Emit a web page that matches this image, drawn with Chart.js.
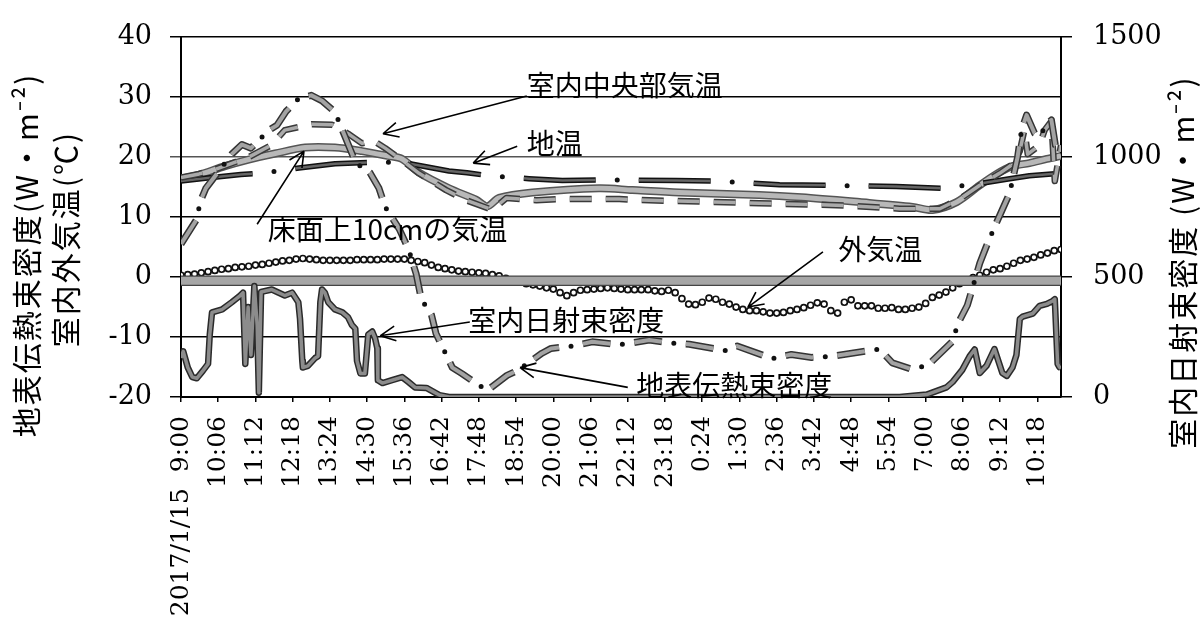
<!DOCTYPE html>
<html lang="ja">
<head>
<meta charset="utf-8">
<title>地表伝熱束密度・室内外気温・室内日射束密度</title>
<script src="https://cdn.jsdelivr.net/npm/chart.js@4.4.1/dist/chart.umd.min.js"></script>
<style>
  html, body { margin: 0; padding: 0; background: #fff; }
  #wrap { width: 1201px; height: 628px; }
</style>
</head>
<body>
<div id="wrap"><canvas id="chart" width="1201" height="628"></canvas></div>
<script>
//? DATA (x = minutes after 2017/1/15 9:00)
const tickLabels = ['2017/1/15  9:00', '10:06', '11:12', '12:18', '13:24', '14:30', '15:36', '16:42',
    '17:48', '18:54', '20:00', '21:06', '22:12', '23:18', '0:24', '1:30', '2:36', '3:42', '4:48',
    '5:54', '7:00', '8:06', '9:12', '10:18'];
const tickStep = 66;
const endTime = 1560;

// 外気温 (℃), every 12 min
const outdoorStep = 12;
const outdoorTemp = [
    0.3, 0.4, 0.5, 0.7, 0.9, 1.1, 1.3, 1.4, 1.6, 1.7, 1.8,
    2.0, 2.1, 2.3, 2.5, 2.7, 2.8, 3.0, 3.1, 3.0, 2.9, 2.8,
    2.8, 2.8, 2.8, 2.8, 2.9, 2.9, 2.9, 2.9, 3.0, 3.0, 3.0,
    3.0, 2.8, 2.6, 2.4, 2.0, 1.6, 1.4, 1.2, 1.0, 0.9, 0.8,
    0.7, 0.6, 0.4, 0.2, -0.2, -0.5, -0.8, -1.1, -1.3, -1.5, -1.8,
    -2.0, -2.6, -3.1, -2.6, -2.2, -2.1, -2.0, -1.9, -1.8, -1.9, -2.0,
    -2.1, -2.1, -2.1, -2.1, -2.3, -2.4, -2.2, -2.6, -3.6, -4.5, -4.6,
    -4.2, -3.5, -3.7, -4.2, -4.5, -5.0, -5.4, -5.6, -5.6, -5.8, -6.0,
    -6.0, -5.9, -5.6, -5.4, -5.1, -4.7, -4.3, -4.5, -5.6, -6.0, -4.2,
    -3.8, -4.8, -4.8, -4.8, -5.2, -5.2, -5.1, -5.4, -5.4, -5.2, -5.0,
    -4.4, -3.4, -3.0, -2.5, -1.8, -1.1, -0.5, -0.1, 0.3, 0.8, 1.2,
    1.4, 1.8, 2.3, 2.8, 3.0, 3.3, 3.7, 4.0, 4.4, 4.6
];

// 床面上10cmの気温 (℃)
const floorTime = [0, 30, 78, 120, 167, 220, 273, 321, 367, 392, 422, 475, 523, 543, 564, 623, 741, 800,
    883, 1025, 1100, 1203, 1297, 1332, 1375, 1416, 1446, 1474, 1504, 1535, 1560];
const floorTemp = [16.4, 17.0, 18.5, 19.6, 20.6, 21.6, 21.6, 21.0, 20.2, 19.7, 17.4, 14.8, 12.9, 11.8, 13.2,
    14.1, 14.8, 14.5, 14.1, 13.7, 13.3, 12.5, 11.7, 11.2, 12.5, 15.3, 17.2, 18.5, 19.0, 19.7, 20.2];

// 室内中央部気温 (℃)
const centerTime = [0, 32, 62, 120, 160, 184, 232, 268, 298, 321, 340, 362, 387, 422, 470, 506, 552, 577,
    630, 671, 777, 830, 919, 1025, 1114, 1185, 1274, 1345, 1380, 1416, 1451, 1474, 1487, 1495, 1501,
    1522, 1531, 1543, 1549, 1560];
const centerTemp = [16.6, 17.2, 18.0, 20.0, 22.0, 24.5, 25.5, 25.4, 23.8, 22.3, 22.8, 21.5, 19.8, 17.3,
    14.5, 12.8, 11.2, 13.2, 12.8, 13.0, 13.0, 12.8, 12.6, 12.3, 12.1, 11.9, 11.4, 11.4, 13.0, 15.3, 17.3,
    18.8, 21.0, 24.5, 20.5, 22.0, 24.5, 26.0, 16.0, 22.0];

// 地温 (℃)
const soilTime = [0, 55, 106, 144, 209, 273, 351, 399, 475, 507, 546, 617, 676, 750, 878, 951, 1061, 1146,
    1268, 1348, 1416, 1469, 1504, 1560];
const soilTemp = [16.0, 16.6, 17.1, 17.3, 18.2, 18.9, 19.2, 19.0, 17.7, 17.4, 16.9, 16.4, 16.1, 16.2, 16.1,
    16.0, 15.4, 15.3, 15.1, 14.8, 15.6, 16.4, 16.9, 17.3];

// 地表伝熱束密度 (W/m2, left axis)
const fluxTime = [0, 27, 35, 44, 90, 108, 124, 156, 170, 186, 209, 231, 250, 273, 310, 335, 351, 362, 387,
    404, 417, 426, 444, 452, 481, 498, 523, 543, 578, 596, 640, 656, 694, 729, 777, 830, 869, 901, 967,
    986, 1048, 1082, 1118, 1155, 1238, 1261, 1293, 1323, 1368, 1377, 1394, 1416, 1428, 1442, 1469,
    1483, 1490, 1499, 1513, 1522, 1535, 1543, 1550, 1560];
const fluxValue = [5.5, 9.5, 12.8, 14.8, 20.5, 22.1, 21.5, 24.5, 25.3, 27.6, 29.8, 30.3, 29.4, 27.5, 19.0,
    17.4, 14.8, 11.7, 8.0, 4.5, 0.5, -3.7, -6.3, -9.4, -15.1, -16.1, -17.7, -18.9, -16.4, -15.6, -12.7,
    -11.9, -11.5, -10.8, -11.3, -10.5, -11.0, -11.2, -12.3, -11.5, -13.6, -12.9, -13.4, -13.2, -12.0,
    -14.3, -15.3, -14.8, -10.7, -7.8, -4.7, 2.3, 5.2, 8.3, 14.0, 20.0, 24.5, 27.0, 24.0, 23.5, 25.5,
    26.2, 22.0, 21.0];

// 室内日射束密度 (W/m2, right axis)
const solarTime = [0, 4, 12, 20, 28, 39, 48, 51, 55, 73, 90, 105, 110, 114, 119, 124, 130, 135, 138, 142,
    161, 184, 197, 208, 211, 215, 216, 225, 238, 243, 247, 250, 255, 261, 273, 286, 296, 303, 309, 312,
    318, 326, 332, 339, 344, 348, 349, 357, 374, 392, 403, 415, 435, 458, 475,
    1274, 1322, 1357, 1368, 1385, 1398, 1407, 1416, 1428, 1442, 1456, 1464, 1474, 1481, 1487, 1492,
    1510, 1522, 1535, 1545, 1549, 1552, 1554, 1557, 1560];
const solarValue = [163, 190, 123, 83, 78, 110, 138, 260, 353, 365, 395, 423, 435, 138, 375, 175, 463, 300,
    18, 438, 448, 423, 435, 395, 325, 150, 123, 130, 163, 170, 395, 448, 435, 395, 365, 353, 333, 300,
    285, 150, 98, 98, 260, 273, 245, 203, 70, 58, 70, 83, 63, 40, 38, 8, 0,
    0, 10, 40, 63, 113, 170, 198, 100, 130, 200, 100, 88, 123, 175, 325, 335, 348, 380, 388, 400,
    408, 245, 138, 125, 120];

// thick grey band just under 0
const bandTime = [0, 1560];
const bandValue = [-0.6, -0.6];

//? ANNOTATIONS (data coords: [minutes, ℃])
const notes = [
    { text: '室内中央部気温', at: [613, 31.9], from: [613, 30.2], to: [358, 23.9] },
    { text: '地温', at: [613, 22.3], from: [596, 21.8], to: [518, 19.0] },
    { text: '床面上10cmの気温', at: [154, 8.0], from: [135, 8.8], to: [218, 21.0] },
    { text: '外気温', at: [1165, 4.6], from: [1138, 4.2], to: [1005, -5.0] },
    { text: '室内日射束密度', at: [509, -7.2], from: [512, -7.5], to: [353, -9.8] },
    { text: '地表伝熱束密度', at: [807, -18.0], from: [792, -18.4], to: [601, -15.1] },
];

const cjk = "'Noto Sans CJK JP', sans-serif";
const serif = "'DejaVu Serif', serif";

function lineSet(times, values, style) {
    return Object.assign({
        data: times.map((t, i) => ({ x: t, y: values[i] })),
        yAxisID: 'y',
        pointRadius: 0,
        fill: false,
        tension: 0,
        borderCapStyle: 'butt',
        borderJoinStyle: 'round',
    }, style);
}

function vText(ctx, text, cx, cy) {
    ctx.save();
    ctx.translate(cx, cy);
    ctx.rotate(-Math.PI / 2);
    ctx.textAlign = 'center';
    ctx.textBaseline = 'middle';
    ctx.fillText(text, 0, 0);
    ctx.restore();
}

const notesPlugin = {
    id: 'notes',
    afterDraw(chart) {
        const { ctx } = chart;
        const x = chart.scales.x, y = chart.scales.y;
        ctx.save();
        ctx.fillStyle = '#000';
        ctx.strokeStyle = '#000';
        ctx.lineWidth = 1.6;
        ctx.font = '28px ' + cjk;
        ctx.textAlign = 'left';
        ctx.textBaseline = 'middle';
        notes.forEach(n => {
            const x1 = x.getPixelForValue(n.from[0]), y1 = y.getPixelForValue(n.from[1]);
            const x2 = x.getPixelForValue(n.to[0]), y2 = y.getPixelForValue(n.to[1]);
            const a = Math.atan2(y2 - y1, x2 - x1);
            ctx.beginPath();
            ctx.moveTo(x1, y1);
            ctx.lineTo(x2, y2);
            [-0.45, 0.45].forEach(d => {
                ctx.moveTo(x2, y2);
                ctx.lineTo(x2 - 17 * Math.cos(a + d), y2 - 17 * Math.sin(a + d));
            });
            ctx.stroke();
            ctx.fillText(n.text, x.getPixelForValue(n.at[0]), y.getPixelForValue(n.at[1]));
        });

        // axis titles
        ctx.font = '30px ' + cjk;
        if ('letterSpacing' in ctx) ctx.letterSpacing = '2px';
        vText(ctx, '地表伝熱束密度(W・m⁻²)', 27, 255);
        vText(ctx, '室内外気温(℃)', 66, 239);
        vText(ctx, '室内日射束密度 (W・m⁻²)', 1183, 262);
        ctx.restore();
    }
};

new Chart(document.getElementById('chart'), {
    type: 'line',
    data: {
        datasets: [
            // drawn top-first
            lineSet(fluxTime, fluxValue, { label: '地表伝熱束密度', borderColor: '#111', borderWidth: 5,
                borderDash: [0, 52], borderDashOffset: 12, borderCapStyle: 'round' }),
            lineSet(fluxTime, fluxValue, { borderColor: '#a3a3a3', borderWidth: 4, borderDash: [28, 24] }),
            lineSet(fluxTime, fluxValue, { borderColor: '#333', borderWidth: 7, borderDash: [28, 24] }),
            lineSet(centerTime, centerTemp, { label: '室内中央部気温', borderColor: '#aaa', borderWidth: 3.5,
                borderDash: [22, 14] }),
            lineSet(centerTime, centerTemp, { borderColor: '#3a3a3a', borderWidth: 6.5, borderDash: [22, 14] }),
            lineSet(soilTime, soilTemp, { label: '地温', borderColor: '#111', borderWidth: 5,
                borderDash: [0, 115], borderDashOffset: 21.5, borderCapStyle: 'round' }),
            lineSet(soilTime, soilTemp, { borderColor: '#666', borderWidth: 2.5, borderDash: [72, 43] }),
            lineSet(soilTime, soilTemp, { borderColor: '#111', borderWidth: 5.5, borderDash: [72, 43] }),
            lineSet(floorTime, floorTemp, { label: '床面上10cmの気温', borderColor: '#b8b8b8', borderWidth: 5,
                tension: 0.3 }),
            lineSet(floorTime, floorTemp, { borderColor: '#555', borderWidth: 8, tension: 0.3 }),
            lineSet(solarTime, solarValue, { label: '室内日射束密度', yAxisID: 'y2', borderColor: '#8c8c8c',
                borderWidth: 3.5 }),
            lineSet(solarTime, solarValue, { yAxisID: 'y2', borderColor: '#2a2a2a', borderWidth: 6.5 }),
            lineSet(bandTime, bandValue, { borderColor: '#a6a6a6', borderWidth: 8 }),
            lineSet(bandTime, bandValue, { borderColor: '#444', borderWidth: 10.5 }),
            {
                label: '外気温',
                data: outdoorTemp.map((v, i) => ({ x: i * outdoorStep, y: v })),
                yAxisID: 'y',
                showLine: false,
                pointRadius: 3,
                pointBorderWidth: 1.7,
                pointBorderColor: '#111',
                pointBackgroundColor: '#fff',
            },
        ]
    },
    options: {
        responsive: false,
        animation: false,
        events: [],
        layout: { padding: { top: 28, left: 0, right: 0, bottom: 0 } },
        plugins: { legend: { display: false }, tooltip: { enabled: false } },
        scales: {
            x: {
                type: 'linear', position: 'bottom', min: 0, max: endTime,
                afterBuildTicks: axis => { axis.ticks = tickLabels.map((_, i) => ({ value: i * tickStep })); },
                afterFit: s => { s.height = 231; },
                grid: { display: true, drawOnChartArea: false, drawTicks: true, tickLength: 5, color: '#000', lineWidth: 1.5 },
                border: { display: true, color: '#000', width: 2 },
                ticks: {
                    autoSkip: false, maxRotation: 90, minRotation: 90, padding: 14, color: '#000',
                    font: { family: serif, size: 25 },
                    callback: (v, i) => tickLabels[i]
                }
            },
            y: {
                position: 'left', min: -20, max: 40,
                afterFit: s => { s.width = 181; },
                ticks: { stepSize: 10, padding: 18, color: '#000', font: { family: serif, size: 27 } },
                grid: { color: c => (c.tick && c.tick.value === 20) ? '#555' : '#000', lineWidth: 1.5, tickLength: 11 },
                border: { color: '#000', width: 2 }
            },
            y2: {
                position: 'right', min: 0, max: 1500,
                afterFit: s => { s.width = 140; },
                ticks: { stepSize: 500, padding: 21, color: '#000', font: { family: serif, size: 27 },
                    callback: v => String(v) },
                grid: { drawOnChartArea: false, tickLength: 11, color: '#000', lineWidth: 1.5 },
                border: { color: '#000', width: 2 }
            }
        }
    },
    plugins: [notesPlugin]
});
</script>
</body>
</html>
